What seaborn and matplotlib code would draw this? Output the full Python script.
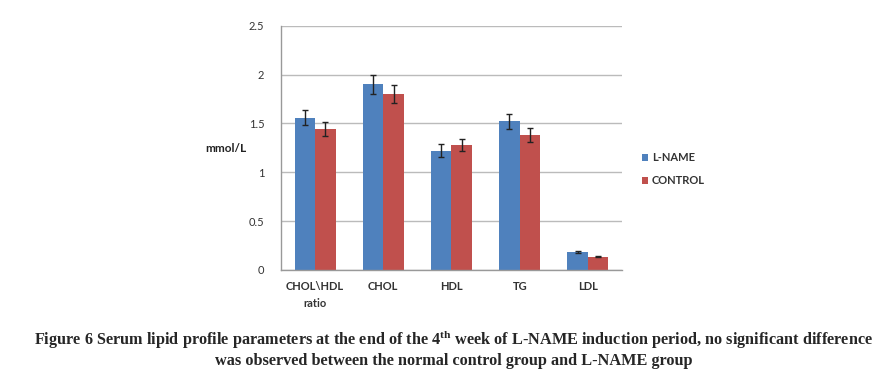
import matplotlib
matplotlib.use("Agg")
import matplotlib.pyplot as plt
import seaborn as sns
import pandas as pd
import numpy as np

categories = ["CHOL\\HDL\nratio", "CHOL", "HDL", "TG", "LDL"]
groups = ["L-NAME", "CONTROL"]
lname_vals = [1.56, 1.90, 1.22, 1.52, 0.18]
control_vals = [1.44, 1.80, 1.28, 1.38, 0.135]
lname_err = [0.08, 0.095, 0.065, 0.075, 0.01]
control_err = [0.07, 0.09, 0.065, 0.075, 0.004]
yticks = [0, 0.5, 1, 1.5, 2, 2.5]
ytick_labels = ["0", "0.5", "1", "1.5", "2", "2.5"]

colors = ["#4F81BD", "#C0504D"]

df = pd.DataFrame({
    "category": categories * 2,
    "group": [groups[0]] * 5 + [groups[1]] * 5,
    "value": lname_vals + control_vals,
})

sns.set_style("white")
plt.rcParams["font.family"] = ["Lato", "DejaVu Sans"]
plt.rcParams["mathtext.fontset"] = "custom"
plt.rcParams["mathtext.rm"] = "Liberation Serif"
plt.rcParams["mathtext.bf"] = "Liberation Serif:bold"

fig = plt.figure(figsize=(8.96, 3.79), dpi=100)
ax = fig.add_axes([0.3136, 0.2876, 0.3806, 0.6446])

sns.barplot(data=df, x="category", y="value", hue="group", order=categories,
            hue_order=groups, palette=colors, width=0.6, saturation=1,
            errorbar=None, ax=ax, legend=True, edgecolor="none", linewidth=0)

errs = [lname_err, control_err]
for cont, err in zip(ax.containers, errs):
    xs = [p.get_x() + p.get_width() / 2 for p in cont.patches]
    ys = [p.get_height() for p in cont.patches]
    ax.errorbar(xs, ys, yerr=err, fmt="none", ecolor="#222222",
                elinewidth=1.0, capsize=2.5, capthick=1.0, zorder=5)

ax.set_ylim(0, 2.5)
ax.set_xlim(-0.5, 4.5)
ax.set_yticks(yticks)
ax.set_yticklabels(ytick_labels)
ax.yaxis.grid(True, color="#BBBBBB", linewidth=1.0)
ax.set_axisbelow(True)
for s in ["top", "right"]:
    ax.spines[s].set_visible(False)
for s in ["left", "bottom"]:
    ax.spines[s].set_color("#999999")
    ax.spines[s].set_linewidth(1.0)
ax.set_xlabel("")
ax.set_ylabel("")
ax.tick_params(axis="x", which="major", length=0, pad=8, labelsize=8, labelcolor="#333333")
ax.set_xticks(np.arange(-0.5, 5.0, 1.0), minor=True)
ax.tick_params(axis="x", which="minor", length=4, color="#999999", direction="out")
ax.tick_params(axis="y", length=0, pad=12, labelsize=8, labelcolor="#333333")
for lbl in ax.get_xticklabels():
    lbl.set_fontweight("bold")
    lbl.set_linespacing(1.6)

fig.text(0.229, 0.607, "mmol/L", fontsize=8.5, fontweight="bold", ha="left", va="center", color="#222222")

handles, labels = ax.get_legend_handles_labels()
ax.get_legend().remove()
leg = fig.legend(handles, labels, loc="upper left", bbox_to_anchor=(0.705, 0.625),
                 frameon=False, fontsize=8, handlelength=0.6, handleheight=0.6,
                 handletextpad=0.3, labelspacing=1.1)
for t in leg.get_texts():
    t.set_fontweight("bold")
    t.set_color("#333333")

cap_font = ["Liberation Serif", "DejaVu Serif"]
l1a = "Figure 6 Serum lipid profile parameters at the end of the 4"
fig.text(0.5065, 0.103, l1a + "$^{\\mathbf{th}}$" + " week of L-NAME induction period, no significant difference",
         ha="center", va="center", fontsize=11.7, fontweight="bold", family=cap_font)
fig.text(0.5065, 0.048, "was observed between the normal control group and L-NAME group",
         ha="center", va="center", fontsize=11.7, fontweight="bold", family=cap_font)

fig.savefig("out.png", dpi=100)
